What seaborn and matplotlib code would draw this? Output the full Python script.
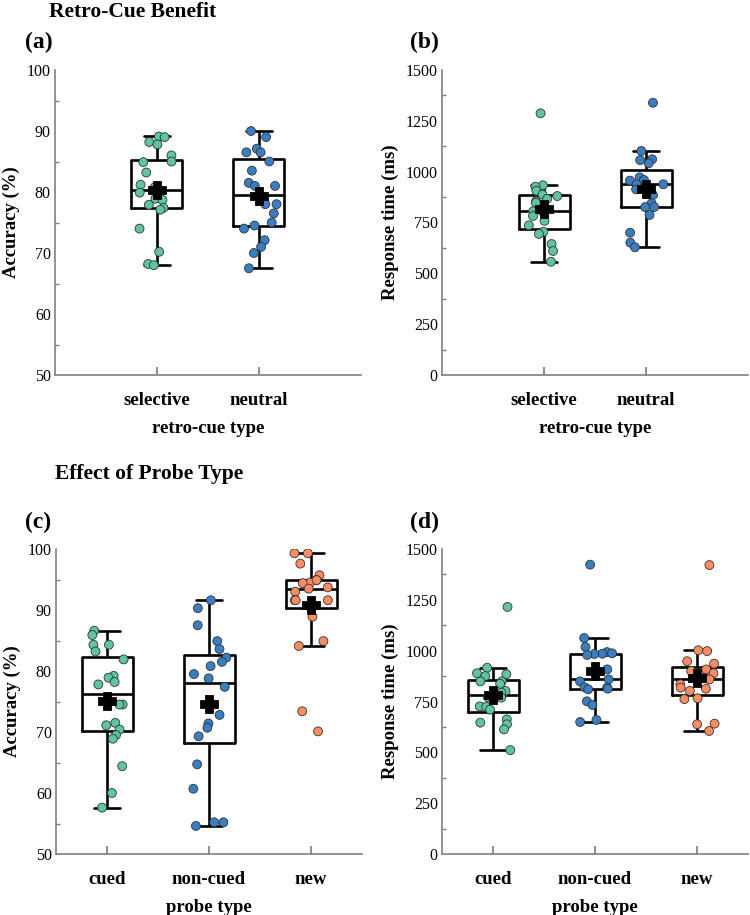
import numpy as np
import pandas as pd
import matplotlib
matplotlib.use("Agg")
import matplotlib.pyplot as plt
from matplotlib.ticker import MultipleLocator
import seaborn as sns

# values
cue_types = ["selective", "neutral"]
acc_selective = [89.1, 89.0, 88.2, 87.8, 86.0, 85.0, 84.9, 83.2, 81.2, 80.8,
                 79.9, 78.9, 78.7, 77.9, 77.4, 77.1, 74.0, 70.2, 68.2, 68.0]
acc_neutral = [90.0, 89.0, 87.1, 86.5, 86.5, 85.0, 83.5, 81.5, 81.0, 81.0,
               78.0, 78.0, 76.5, 75.0, 74.5, 74.0, 72.1, 71.0, 70.0, 67.5]
rt_selective = [1287, 933, 926, 906, 887, 880, 866, 854, 847, 805,
                805, 782, 758, 736, 704, 694, 644, 610, 557]
rt_neutral = [1339, 1102, 1061, 1057, 1041, 972, 959, 956, 938, 938,
              913, 885, 844, 826, 826, 787, 700, 651, 628]

probe_types = ["cued", "non-cued", "new"]
acc_cued = [86.6, 85.9, 84.3, 84.3, 83.2, 81.9, 79.2, 78.9, 78.2, 77.8,
            74.5, 74.5, 71.5, 71.1, 70.4, 69.5, 68.9, 64.4, 60.0, 57.6]
acc_noncued = [91.6, 90.3, 87.5, 84.9, 83.6, 82.2, 81.5, 80.8, 79.5, 78.8,
               77.4, 72.8, 71.4, 70.7, 69.3, 64.7, 60.7, 55.2, 55.2, 54.6]
acc_new = [99.3, 99.3, 97.6, 95.7, 94.9, 94.5, 94.4, 94.9, 93.7, 93.5,
           93.0, 91.6, 91.6, 91.6, 88.9, 84.9, 84.1, 73.4, 70.1]
rt_cued = [1215, 916, 889, 884, 875, 849, 849, 837, 802, 793,
           772, 769, 726, 724, 710, 662, 646, 638, 613, 511]
rt_noncued = [1423, 1062, 1018, 993, 987, 985, 984, 979, 908, 859,
              849, 820, 818, 813, 810, 751, 733, 659, 649]
rt_new = [1421, 1002, 998, 948, 936, 908, 900, 889, 867, 859,
          835, 818, 813, 802, 766, 762, 641, 638, 605]

green, blue, orange = "#5ec4a1", "#3a7ec2", "#fc8d62"


def long(names, groups):
    return pd.DataFrame({"cond": [n for n, g in zip(names, groups) for _ in g],
                         "val": [v for g in groups for v in g]})


sns.set_theme(style="white")
plt.rcParams["font.family"] = ["Liberation Serif", "DejaVu Serif"]
plt.rcParams.update({"text.color": "black", "axes.labelcolor": "black",
                     "xtick.labelcolor": "black", "ytick.labelcolor": "black"})
np.random.seed(3)

fig = plt.figure(figsize=(7.5, 9.15), dpi=100)
W, H = 750, 915


def panel(left_px, top_px, df, order, colors, ylim, major, ylabel, xlabel):
    ax = fig.add_axes([left_px / W, 1 - (top_px + 305) / H, 306 / W, 305 / H])
    pal = dict(zip(order, colors))
    sns.boxplot(data=df, x="cond", y="val", order=order, ax=ax, fill=False,
                color="black", linewidth=1.9, width=0.5, showfliers=False)
    sns.stripplot(data=df, x="cond", y="val", order=order, hue="cond",
                  palette=pal, ax=ax, jitter=0.18, size=6.4, edgecolor="#333333",
                  linewidth=0.6, legend=False, zorder=3)
    sns.pointplot(data=df, x="cond", y="val", order=order, ax=ax, estimator="mean",
                  errorbar=None, color="black", markers="P", linestyle="none",
                  markersize=11, zorder=5)
    n = len(order)
    ax.set_xlim((-1, 2) if n == 2 else (-0.5, 2.5))
    ax.set_ylim(*ylim)
    ax.yaxis.set_major_locator(MultipleLocator(major))
    ax.yaxis.set_minor_locator(MultipleLocator(major / 2))
    for s in ["top", "right"]:
        ax.spines[s].set_visible(False)
    for s in ["left", "bottom"]:
        ax.spines[s].set_color("#808080")
        ax.spines[s].set_linewidth(1.2)
    ax.tick_params(axis="both", which="both", direction="in", color="#808080")
    ax.tick_params(axis="y", which="major", length=5, pad=3, labelsize=11.5)
    ax.tick_params(axis="y", which="minor", length=3, left=True)
    ax.tick_params(axis="x", which="major", length=6, pad=12, bottom=True)
    for lab in ax.get_xticklabels():
        lab.set_fontweight("bold")
        lab.set_fontsize(13.5)
    ax.set_xlabel(xlabel, fontsize=13.5, fontweight="bold", labelpad=8)
    ax.set_ylabel(ylabel, fontsize=13.5, fontweight="bold", labelpad=5)
    return ax


panel(55, 70, long(cue_types, [acc_selective, acc_neutral]), cue_types,
      [green, blue], (50, 100), 10, "Accuracy (%)", "retro-cue type")
panel(442, 70, long(cue_types, [rt_selective, rt_neutral]), cue_types,
      [green, blue], (0, 1500), 250, "Response time (ms)", "retro-cue type")
panel(56, 549, long(probe_types, [acc_cued, acc_noncued, acc_new]), probe_types,
      [green, blue, orange], (50, 100), 10, "Accuracy (%)", "probe type")
panel(442, 549, long(probe_types, [rt_cued, rt_noncued, rt_new]), probe_types,
      [green, blue, orange], (0, 1500), 250, "Response time (ms)", "probe type")

fig.text(49 / W, 1 - 17 / H, "Retro-Cue Benefit", fontsize=15.5, fontweight="bold",
         va="baseline")
fig.text(55 / W, 1 - 479 / H, "Effect of Probe Type", fontsize=15.5, fontweight="bold",
         va="baseline")
for lab, x, y in [("(a)", 25, 48), ("(b)", 410, 48), ("(c)", 25, 528), ("(d)", 410, 528)]:
    fig.text(x / W, 1 - y / H, lab, fontsize=17, fontweight="bold", va="baseline")

fig.savefig("out.png", dpi=100)
